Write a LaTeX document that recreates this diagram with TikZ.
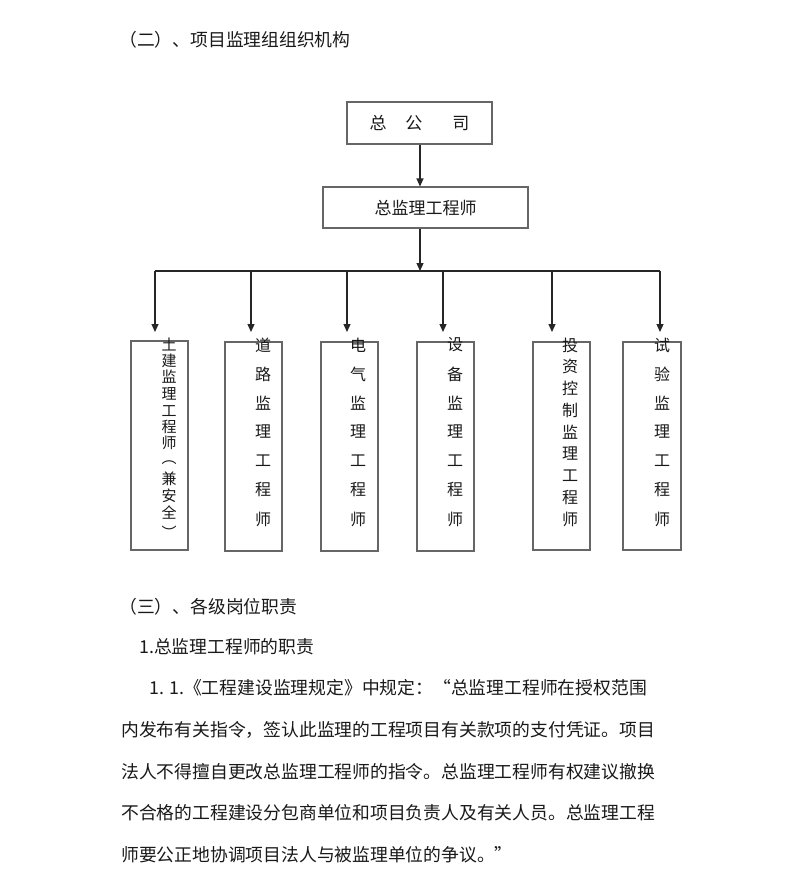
\documentclass[tikz,border=0pt]{standalone}
\usepackage{fontspec}
\setmainfont{Noto Sans CJK SC}
\usetikzlibrary{arrows.meta}
\begin{document}
\begin{tikzpicture}[x=1pt,y=-1pt,
  box/.style={draw=black!60, line width=1.1pt, inner sep=0pt},
  conn/.style={draw=black!85, line width=1.2pt},
  arr/.style={conn, -{Triangle[length=8pt,width=7pt]}},
  txt/.style={inner sep=0pt, text=black!90, font=\fontsize{17.8}{20}\selectfont},
  btxt/.style={inner sep=0pt, text=black!90, font=\fontsize{17}{20}\selectfont},
  vch/.style={inner sep=0pt, text=black!90, font=\fontsize{16}{16}\selectfont},
  vchs/.style={inner sep=0pt, text=black!90, font=\fontsize{15}{15}\selectfont},
]
\fill[white] (0,0) rectangle (792,871);
\useasboundingbox (0,0) rectangle (792,871);

% title
\node[txt, anchor=west] (title) at (119,40) {（二）、项目监理组组织机构};

% top boxes
\node[box, minimum width=145pt, minimum height=42pt] (hq) at (419.5,123) {};
\node[btxt] (hqt) at (419.5,123) {总\hspace{19pt}公\hspace{30pt}司};
\node[box, minimum width=205pt, minimum height=41pt] (chief) at (425.5,207.5) {};
\node[btxt] (chieft) at (425.5,208) {总监理工程师};

% bar coordinates
\coordinate (bm) at (420,271);
\coordinate (b1) at (155,271);
\coordinate (b2) at (251,271);
\coordinate (b3) at (347,271);
\coordinate (b4) at (443,271);
\coordinate (b5) at (552,271);
\coordinate (b6) at (660,271);
\coordinate (t1) at (155,332);
\coordinate (t2) at (251,332);
\coordinate (t3) at (347,332);
\coordinate (t4) at (443,332);
\coordinate (t5) at (552,332);
\coordinate (t6) at (660,332);

\draw[arr] (hq.south -| bm) -- (chief.north -| bm);
\draw[arr] (chief.south -| bm) -- (bm);
\draw[conn] (b1) -- (b6);
\foreach \k in {1,...,6} { \draw[arr] (b\k) -- (t\k); }

% lower boxes
\node[box, minimum width=57pt, minimum height=209pt] (s1) at (159.5,445.5) {};
\node[box, minimum width=57pt, minimum height=209pt] (s2) at (253.5,446.5) {};
\node[box, minimum width=57pt, minimum height=209pt] (s3) at (349.5,446.5) {};
\node[box, minimum width=57pt, minimum height=209pt] (s4) at (445.5,446.5) {};
\node[box, minimum width=57pt, minimum height=208pt] (s5) at (561.5,446) {};
\node[box, minimum width=58pt, minimum height=208pt] (s6) at (652,446) {};

% vertical texts
\foreach \c/\yy [count=\i] in {土/344,建/361,监/377,理/394,工/411,程/427,师/443,︵/463,兼/479,安/496,全/512,︶/532}
  \node[vchs] (v1-\i) at (169,\yy) {\c};
\foreach \c [count=\i] in {道,路,监,理,工,程,师}
  \node[vch] (v2-\i) at (263,{345+(\i-1)*29}) {\c};
\foreach \c [count=\i] in {电,气,监,理,工,程,师}
  \node[vch] (v3-\i) at (358,{345+(\i-1)*29}) {\c};
\foreach \c [count=\i] in {设,备,监,理,工,程,师}
  \node[vch] (v4-\i) at (455,{345+(\i-1)*29}) {\c};
\foreach \c [count=\i] in {投,资,控,制,监,理,工,程,师}
  \node[vch] (v5-\i) at (570,{345+(\i-1)*21.75}) {\c};
\foreach \c [count=\i] in {试,验,监,理,工,程,师}
  \node[vch] (v6-\i) at (662,{345+(\i-1)*29}) {\c};

% text below
\node[txt, anchor=west] (h3) at (119,607) {（三）、各级岗位职责};
\node[txt, anchor=west] (h31) at (139,647) {1.总监理工程师的职责};
\node[txt, anchor=west] (p1) at (149,688) {1. 1.《工程建设监理规定》中规定：“总监理工程师在授权范围};
\node[txt, anchor=west] (p2) at (121,730) {内发布有关指令，签认此监理的工程项目有关款项的支付凭证。项目};
\node[txt, anchor=west] (p3) at (121,772) {法人不得擅自更改总监理工程师的指令。总监理工程师有权建议撤换};
\node[txt, anchor=west] (p4) at (121,813) {不合格的工程建设分包商单位和项目负责人及有关人员。总监理工程};
\node[txt, anchor=west] (p5) at (121,855) {师要公正地协调项目法人与被监理单位的争议。”};
\end{tikzpicture}
\end{document}
